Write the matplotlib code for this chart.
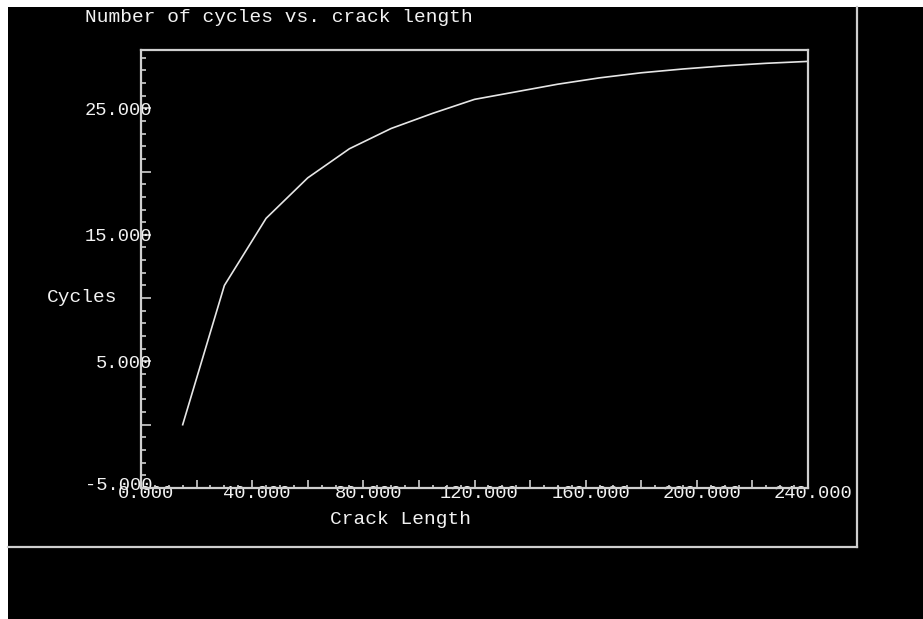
import matplotlib
matplotlib.use("Agg")
import matplotlib.pyplot as plt
from matplotlib.ticker import MultipleLocator, FuncFormatter
from matplotlib.transforms import ScaledTranslation
from matplotlib.lines import Line2D
from matplotlib.patches import Rectangle

# ---- data ----
crack_length = [15, 30, 45, 60, 75, 90, 105, 120, 135, 150, 165, 180, 195, 210, 225, 240]
cycles = [0.0, 11.0, 16.3, 19.5, 21.8, 23.4, 24.6, 25.7, 26.3, 26.9, 27.4, 27.8, 28.1, 28.35, 28.55, 28.7]
x_labels_at = [0, 40, 80, 120, 160, 200, 240]
y_labels_at = [-5, 5, 15, 25]

title_text = "Number of cycles vs. crack length"
xlabel_text = "Crack Length"
ylabel_text = "Cycles"

FONT = "Liberation Mono"
FG = "#f2f2f2"
AX = "#cfcfcf"

W, H = 923, 619
fig = plt.figure(figsize=(W / 100, H / 100), dpi=100, facecolor="black")

def fx(px):
    return px / W

def fy(py):
    return 1 - py / H

# white strips at top and left
fig.patches.append(Rectangle((0, fy(7)), 1, 7 / H, transform=fig.transFigure,
                             facecolor="white", edgecolor="none", zorder=0))
fig.patches.append(Rectangle((0, 0), fx(8), 1, transform=fig.transFigure,
                             facecolor="white", edgecolor="none", zorder=0))
# outer frame lines
fig.lines.append(Line2D([fx(8), fx(857)], [fy(547), fy(547)], transform=fig.transFigure,
                        color=AX, lw=1.6))
fig.lines.append(Line2D([fx(857), fx(857)], [fy(7), fy(547)], transform=fig.transFigure,
                        color=AX, lw=1.6))

ax = fig.add_axes([fx(141), fy(488), fx(808) - fx(141), (488 - 50) / H])
ax.set_facecolor("black")
ax.plot(crack_length, cycles, color="#e6e6e6", lw=1.2)

ax.set_xlim(0, 240)
ax.set_ylim(-5, 29.6)

for s in ax.spines.values():
    s.set_color(AX)
    s.set_linewidth(1.6)

ax.xaxis.set_major_locator(MultipleLocator(20))
ax.xaxis.set_minor_locator(MultipleLocator(5))
ax.yaxis.set_major_locator(MultipleLocator(5))
ax.yaxis.set_minor_locator(MultipleLocator(1))

ax.xaxis.set_major_formatter(FuncFormatter(
    lambda v, p: f"{v:.3f}" if any(abs(v - t) < 1e-6 for t in x_labels_at) else ""))
ax.yaxis.set_major_formatter(FuncFormatter(
    lambda v, p: f"{v:.3f}" if any(abs(v - t) < 1e-6 for t in y_labels_at) else ""))

ax.tick_params(axis="x", which="major", direction="in", length=6, width=1.2, color=AX,
               pad=-2, labelcolor=FG, labelsize=13.5)
ax.tick_params(axis="x", which="minor", direction="in", length=2.2, width=1.2, color=AX)
ax.tick_params(axis="y", which="major", direction="in", length=7.5, width=1.2, color=AX,
               pad=-8, labelcolor=FG, labelsize=13.5)
ax.tick_params(axis="y", which="minor", direction="in", length=3.5, width=1.2, color=AX)
ax.tick_params(top=False, right=False, which="both")

fig.canvas.draw()
off = ScaledTranslation(5 / 100, 0, fig.dpi_scale_trans)
for lab in ax.get_xticklabels():
    lab.set_family(FONT)
    lab.set_transform(lab.get_transform() + off)
up = ScaledTranslation(0, 5 / 100, fig.dpi_scale_trans)
for lab in ax.get_yticklabels():
    lab.set_family(FONT)
    if lab.get_text().startswith("-5"):
        lab.set_transform(lab.get_transform() + up)

fig.text(fx(85), fy(18), title_text, family=FONT, size=14, color=FG, ha="left", va="center")
fig.text(fx(401), fy(520), xlabel_text, family=FONT, size=14, color=FG, ha="center", va="center")
fig.text(fx(47), fy(297), ylabel_text, family=FONT, size=14, color=FG, ha="left", va="center")

fig.savefig("out.png", dpi=100, facecolor="black")
